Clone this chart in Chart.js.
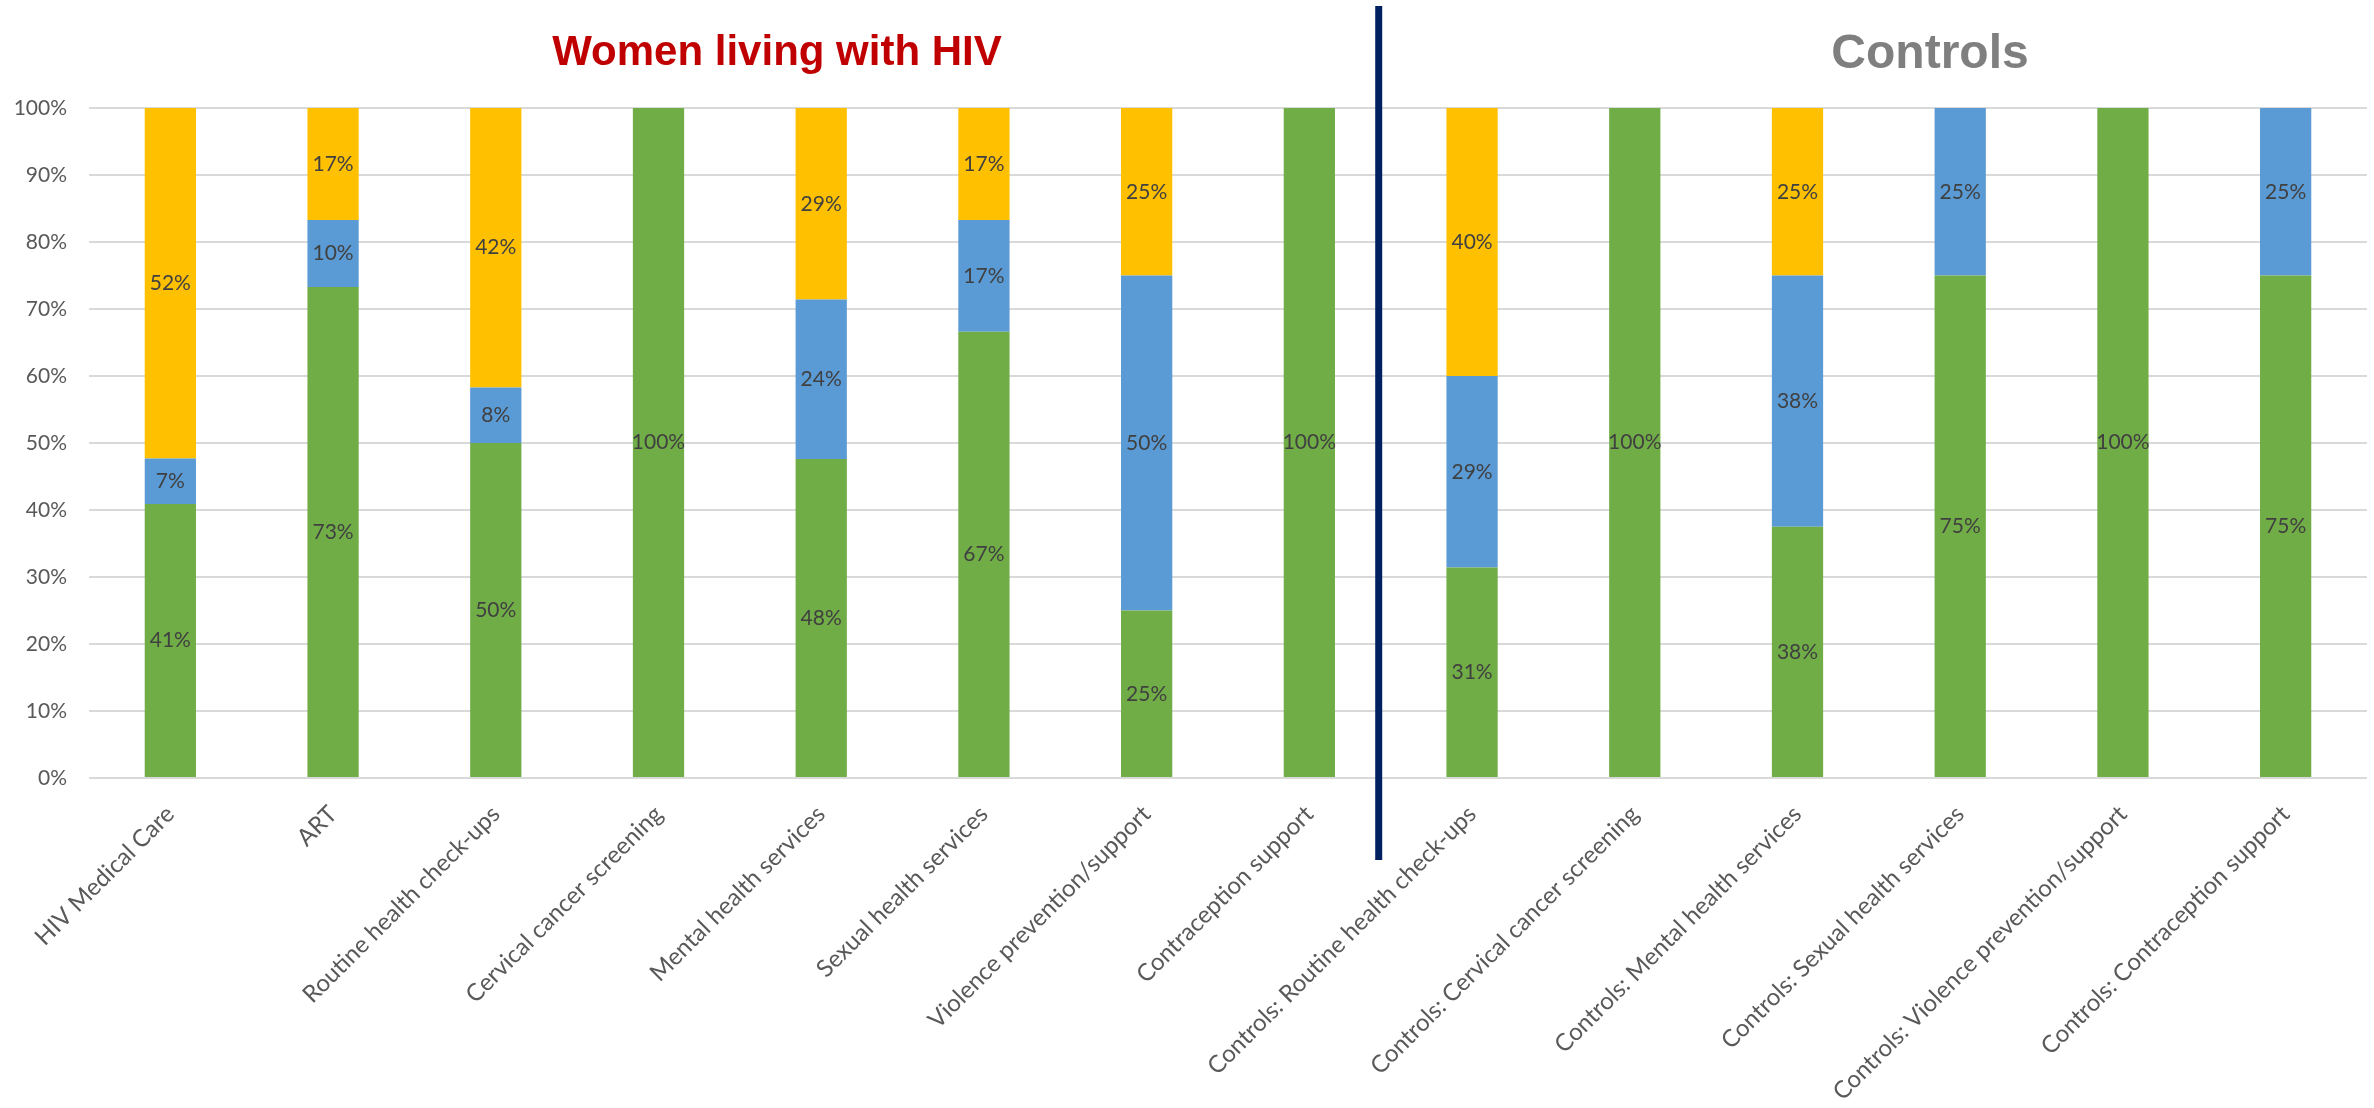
<!DOCTYPE html>
<html>
<head>
<meta charset="utf-8">
<title>Service use</title>
<script src="https://cdn.jsdelivr.net/npm/chart.js@4.4.1/dist/chart.umd.min.js"></script>
<style>
  html, body { margin: 0; padding: 0; background: #fff; }
  #wrap { width: 2374px; height: 1108px; }
</style>
</head>
<body>
<div id="wrap"><canvas id="serviceChart" width="2374" height="1108"></canvas></div>
<script>
const categories = [
  "HIV Medical Care",
  "ART",
  "Routine health check-ups",
  "Cervical cancer screening",
  "Mental health services",
  "Sexual health services",
  "Violence prevention/support",
  "Contraception support",
  "Controls: Routine health check-ups",
  "Controls: Cervical cancer screening",
  "Controls: Mental health services",
  "Controls: Sexual health services",
  "Controls: Violence prevention/support",
  "Controls: Contraception support"
];

// shares in %, stacked bottom to top: green, blue, yellow
const greenValues = [40.9, 73.3, 50, 100, 47.6, 66.6, 25, 100, 31.4, 100, 37.5, 75, 100, 75];
const blueValues = [6.8, 10, 8.3, 0, 23.8, 16.7, 50, 0, 28.6, 0, 37.5, 25, 0, 25];
const yellowValues = [52.3, 16.7, 41.7, 0, 28.6, 16.7, 25, 0, 40, 0, 25, 0, 0, 0];

const yTicks = [0, 10, 20, 30, 40, 50, 60, 70, 80, 90, 100];

const groupTitles = [
  { text: "Women living with HIV", x: 777, y: 65, size: 42, color: "#C00000" },
  { text: "Controls", x: 1930, y: 68, size: 48, color: "#7F7F7F" }
];

Chart.defaults.font.family = "Lato";

// percentage text in the middle of every segment
const segmentLabels = {
  id: "segmentLabels",
  afterDatasetsDraw(chart) {
    const ctx = chart.ctx;
    ctx.save();
    ctx.font = "21px Lato";
    ctx.fillStyle = "#404040";
    ctx.textAlign = "center";
    ctx.textBaseline = "middle";
    chart.data.datasets.forEach((ds, i) => {
      const meta = chart.getDatasetMeta(i);
      meta.data.forEach((bar, j) => {
        const v = ds.data[j];
        if (!v) return;
        const { x, y, base } = bar.getProps(["x", "y", "base"], true);
        ctx.fillText(Math.round(v) + "%", x, (y + base) / 2);
      });
    });
    ctx.restore();
  }
};

// group headings and the divider between the two groups
const groupDecor = {
  id: "groupDecor",
  afterDraw(chart) {
    const ctx = chart.ctx;
    const xs = chart.scales.x;
    const divX = (xs.getPixelForValue(7) + xs.getPixelForValue(8)) / 2 - 12;

    ctx.save();
    ctx.strokeStyle = "#002060";
    ctx.lineWidth = 7;
    ctx.beginPath();
    ctx.moveTo(divX, 6);
    ctx.lineTo(divX, 860);
    ctx.stroke();

    ctx.textAlign = "center";
    ctx.textBaseline = "alphabetic";
    groupTitles.forEach(t => {
      ctx.font = `bold ${t.size}px "Liberation Sans", Arial, sans-serif`;
      ctx.fillStyle = t.color;
      ctx.fillText(t.text, t.x, t.y);
    });
    ctx.restore();
  }
};

const ctx = document.getElementById("serviceChart").getContext("2d");
new Chart(ctx, {
  type: "bar",
  data: {
    labels: categories,
    datasets: [
      { label: "Series 1", data: greenValues, backgroundColor: "#70AD47" },
      { label: "Series 2", data: blueValues, backgroundColor: "#5B9BD5" },
      { label: "Series 3", data: yellowValues, backgroundColor: "#FFC000" }
    ]
  },
  options: {
    responsive: false,
    animation: false,
    layout: { padding: { top: 108, right: 7, left: 0, bottom: 0 } },
    datasets: {
      bar: { categoryPercentage: 1, barPercentage: 0.315 }
    },
    scales: {
      x: {
        stacked: true,
        grid: { display: false },
        border: { display: false },
        ticks: {
          autoSkip: false,
          minRotation: 45,
          maxRotation: 45,
          padding: 14,
          color: "#595959",
          font: { size: 24 }
        },
        afterFit(scale) { scale.height = 330; }
      },
      y: {
        stacked: true,
        min: 0,
        max: 100,
        border: { display: false },
        grid: { color: "#D9D9D9", lineWidth: 2, drawTicks: false },
        afterBuildTicks(scale) { scale.ticks = yTicks.map(v => ({ value: v })); },
        ticks: {
          padding: 22,
          color: "#595959",
          font: { size: 21 },
          callback: v => v + "%"
        },
        afterFit(scale) { scale.width = 89; }
      }
    },
    plugins: {
      legend: { display: false },
      tooltip: { enabled: false }
    }
  },
  plugins: [segmentLabels, groupDecor]
});
</script>
</body>
</html>
